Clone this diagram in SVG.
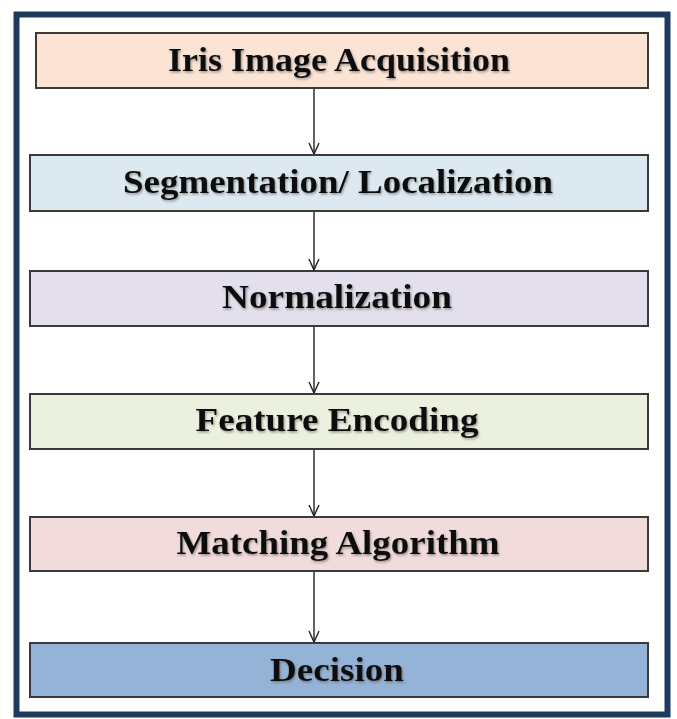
<svg xmlns="http://www.w3.org/2000/svg" width="677" height="719" viewBox="0 0 677 719">
<defs>
<marker id="arr" markerWidth="14" markerHeight="14" refX="12" refY="6" orient="auto" markerUnits="userSpaceOnUse">
<polyline points="1,1 12,6 1,11" fill="none" stroke="#222" stroke-width="1.4"/>
</marker>
<filter id="sh" x="-5%" y="-20%" width="110%" height="140%">
<feDropShadow dx="1" dy="1.5" stdDeviation="0.8" flood-color="#555" flood-opacity="0.6"/>
</filter>
</defs>
<style>
.box{stroke:#3a3a3a;stroke-width:2}
.lbl{font-family:"Liberation Serif","Times New Roman",serif;font-weight:bold;font-size:34px;fill:#111;text-anchor:middle;filter:url(#sh)}
.con{stroke:#222;stroke-width:1.4;fill:none;marker-end:url(#arr)}
</style>
<rect x="0" y="0" width="677" height="719" fill="#ffffff"/>
<rect x="16.5" y="14.5" width="651" height="700" fill="#ffffff" stroke="#1f3a5f" stroke-width="6"/>
<g id="connectors">
<line class="con" x1="314" y1="88" x2="314" y2="154"/>
<line class="con" x1="314" y1="211" x2="314" y2="270"/>
<line class="con" x1="314" y1="326" x2="314" y2="393"/>
<line class="con" x1="314" y1="449" x2="314" y2="516"/>
<line class="con" x1="314" y1="571" x2="314" y2="642"/>
</g>
<g id="n1">
<rect class="box" x="36" y="33" width="612" height="55" fill="#fce4d5"/>
<text class="lbl" x="339" y="71" textLength="342" lengthAdjust="spacingAndGlyphs">Iris Image Acquisition</text>
</g>
<g id="n2">
<rect class="box" x="30" y="155" width="618" height="56" fill="#dde9f0"/>
<text class="lbl" x="338" y="193" textLength="430" lengthAdjust="spacingAndGlyphs">Segmentation/ Localization</text>
</g>
<g id="n3">
<rect class="box" x="30" y="271" width="618" height="55" fill="#e4dfec"/>
<text class="lbl" x="337" y="308" textLength="230" lengthAdjust="spacingAndGlyphs">Normalization</text>
</g>
<g id="n4">
<rect class="box" x="30" y="394" width="618" height="55" fill="#ecf1df"/>
<text class="lbl" x="337" y="431" textLength="283" lengthAdjust="spacingAndGlyphs">Feature Encoding</text>
</g>
<g id="n5">
<rect class="box" x="30" y="517" width="618" height="54" fill="#f2dcdb"/>
<text class="lbl" x="338" y="554" textLength="323" lengthAdjust="spacingAndGlyphs">Matching Algorithm</text>
</g>
<g id="n6">
<rect class="box" x="30" y="643" width="618" height="54" fill="#95b3d7"/>
<text class="lbl" x="337" y="681" textLength="134" lengthAdjust="spacingAndGlyphs">Decision</text>
</g>
</svg>
